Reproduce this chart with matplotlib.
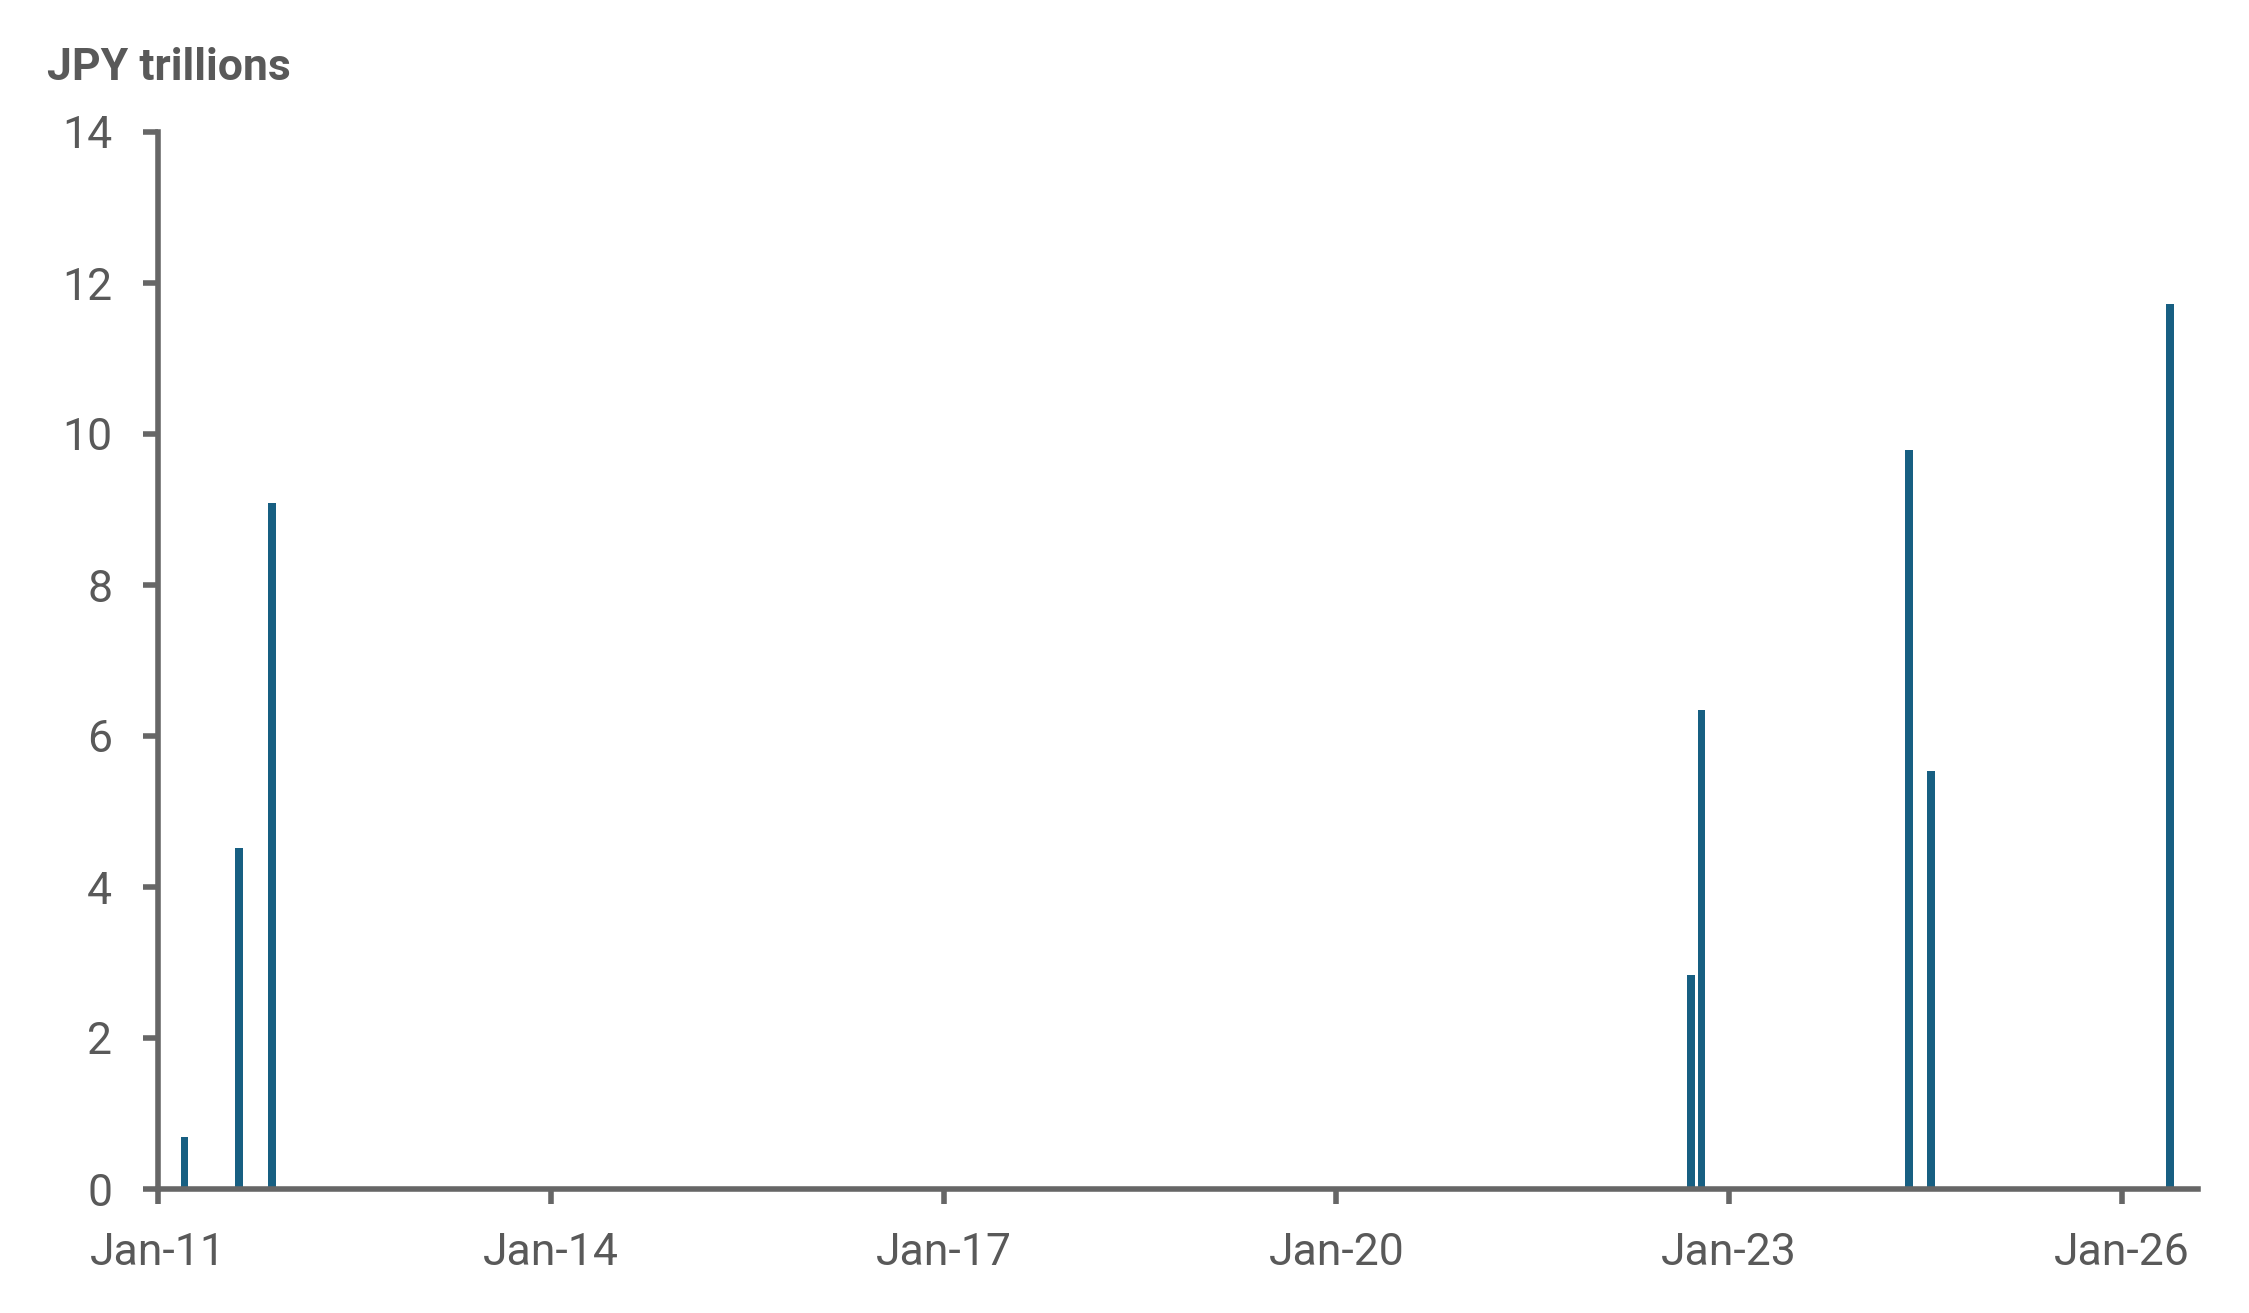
import matplotlib
matplotlib.use('Agg')
import matplotlib.pyplot as plt
import matplotlib.dates as mdates
import pandas as pd

# Monthly intervention amounts (JPY trillions)
months = ['2011-03', '2011-08', '2011-11', '2022-09', '2022-10', '2024-05', '2024-07', '2026-05']
amounts = [0.69, 4.51, 9.09, 2.84, 6.35, 9.79, 5.53, 11.72]
tick_years = [2011, 2014, 2017, 2020, 2023, 2026]

bar_color = '#175F82'
axis_color = '#666666'
text_color = '#595959'

plt.rcParams['font.family'] = ['Roboto', 'DejaVu Sans']

x = pd.to_datetime(months) + pd.Timedelta(days=15)

fig = plt.figure(figsize=(22.49, 13.13), dpi=100)
ax = fig.add_axes([158 / 2249, 1 - 1189 / 1313, (2198 - 158) / 2249, (1189 - 132) / 1313])

ax.bar(x, amounts, width=22, color=bar_color, zorder=2)

ax.set_xlim(pd.Timestamp('2011-01-01'), pd.Timestamp('2026-08-01'))
ax.set_ylim(0, 14)
ax.set_yticks(range(0, 15, 2))
ax.set_xticks([pd.Timestamp(f'{y}-01-01') for y in tick_years])
ax.xaxis.set_major_formatter(mdates.DateFormatter('%b-%y'))

for side in ['top', 'right']:
    ax.spines[side].set_visible(False)
for side in ['left', 'bottom']:
    ax.spines[side].set_color(axis_color)
    ax.spines[side].set_linewidth(4)
    ax.spines[side].set_zorder(3)

ax.tick_params(axis='both', direction='out', length=11, width=4, color=axis_color,
               labelsize=32, labelcolor=text_color)
ax.tick_params(axis='y', pad=22)
ax.tick_params(axis='x', pad=20)

fig.text(47 / 2249, 1 - 80 / 1313, 'JPY trillions', fontsize=32, fontweight='bold',
         color=text_color, ha='left', va='baseline')

fig.savefig('out.png', dpi=100, facecolor='white')
